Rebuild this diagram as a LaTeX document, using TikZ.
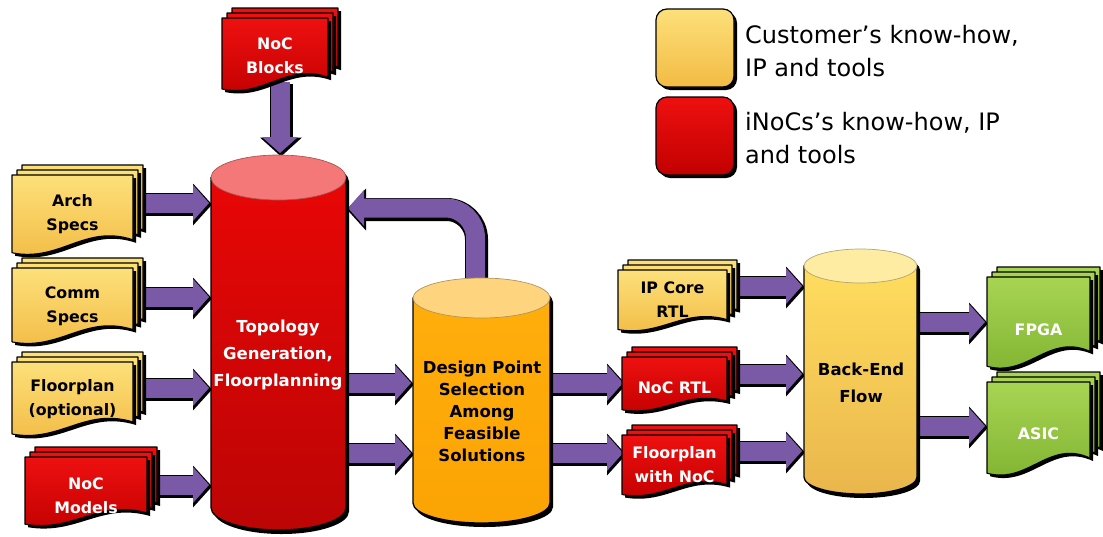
\documentclass[tikz,border=0pt]{standalone}
\usepackage{fontspec}
\setmainfont{DejaVu Sans}
\usetikzlibrary{arrows.meta,calc,shadows}
\pgfdeclarelayer{bg}
\pgfsetlayers{bg,main}
\definecolor{yT}{HTML}{FDE07A}
\definecolor{yB}{HTML}{F2BB44}
\definecolor{rT}{HTML}{EE1010}
\definecolor{rB}{HTML}{C20000}
\definecolor{gT}{HTML}{A8D454}
\definecolor{gB}{HTML}{7FB330}
\definecolor{purp}{HTML}{7A5AA6}
\definecolor{cylRtop}{HTML}{F47878}
\definecolor{cylRa}{HTML}{E80606}
\definecolor{cylRb}{HTML}{BC0505}
\definecolor{cylOtop}{HTML}{FFD47E}
\definecolor{cylOa}{HTML}{FFAE0C}
\definecolor{cylOb}{HTML}{FBA404}
\definecolor{cylYtop}{HTML}{FDECA2}
\definecolor{cylYa}{HTML}{FFDD5E}
\definecolor{cylYb}{HTML}{E9B64C}
\tikzset{
  docY/.style={top color=yT, bottom color=yB},
  docR/.style={top color=rT, bottom color=rB},
  docG/.style={top color=gT, bottom color=gB},
  dtxtK/.style={font=\bfseries\fontsize{15.8}{24}\selectfont, align=center, text=black, inner sep=0pt},
  dtxtW/.style={font=\bfseries\fontsize{15.8}{24}\selectfont, align=center, text=white, inner sep=0pt},
  ctxtK/.style={font=\bfseries\fontsize{16.5}{22}\selectfont, align=center, text=black, inner sep=0pt},
  ctxtW/.style={font=\bfseries\fontsize{16.5}{27}\selectfont, align=center, text=white, inner sep=0pt},
  ctxtK2/.style={font=\bfseries\fontsize{16.5}{27}\selectfont, align=center, text=black, inner sep=0pt},
  anchorbox/.style={inner sep=0pt, outer sep=0pt, draw=none},
  arrK/.style={draw=black, line width=23pt, -{Triangle[width=42pt,length=19pt,line width=0pt]}, transform canvas={shift={(1pt,-1.5pt)}}},
  arrP/.style={draw=purp, line width=19pt, shorten >=2pt, -{Triangle[width=36pt,length=16pt,line width=0pt]}},
  legsq/.style={minimum size=78pt, rounded corners=11pt, draw=black, line width=1.2pt, inner sep=0pt,
    drop shadow={shadow xshift=3pt, shadow yshift=-3pt, opacity=1, fill=black}},
  legtxt/.style={font=\fontsize{24}{33}\selectfont, align=left, anchor=west, inner sep=0pt},
}
\newcommand\mdoc[9]{%
  \pgfmathsetmacro\dw{#4-#2-10}%
  \pgfmathsetmacro\dh{#5-#3-10}%
  \foreach \k in {10,5,0}{%
    \pgfmathsetmacro\px{#2+\k}%
    \pgfmathsetmacro\py{#3+10-\k}%
    \fill[black] ({\px+3},{\py+3}) -- ({\px+\dw+3},{\py+3}) -- ({\px+\dw+3},{\py+0.8*\dh+3}) .. controls ({\px+0.6*\dw+3},{\py+0.6*\dh+3}) and ({\px+0.4*\dw+3},{\py+1.08*\dh+3}) .. ({\px+3},{\py+0.96*\dh+3}) -- cycle;
    \shadedraw[#6, draw=black, line width=1.1pt, line join=round] (\px,\py) -- ({\px+\dw},\py) -- ({\px+\dw},{\py+0.8*\dh}) .. controls ({\px+0.6*\dw},{\py+0.6*\dh}) and ({\px+0.4*\dw},{\py+1.08*\dh}) .. (\px,{\py+0.96*\dh}) -- cycle;
  }%
  \node[anchorbox, minimum width={#4-#2}, minimum height={#5-#3}] (#1) at ({(#2+#4)/2},{(#3+#5)/2}) {};
  \node[#7] (#1-t) at ({#2+\dw/2},{#3+10+#9*\dh}) {#8};
}
\newcommand\cyl[8]{%
  \pgfmathsetmacro\cx{(#2+#3)/2}%
  \pgfmathsetmacro\rx{(#3-#2)/2}%
  \pgfmathsetmacro\yt{#4+#6}%
  \pgfmathsetmacro\yb{#5-#6}%
  \fill[black] ({#2+3},{\yt+4}) -- ({#2+3},{\yb+4}) arc[start angle=180,end angle=0,x radius=\rx,y radius=#6] -- ({#3+3},{\yt+4}) -- cycle;
  \fill[black] ({\cx+3},{\yt+4}) ellipse [x radius=\rx, y radius=#6];
  \shadedraw[#7, draw=black, line width=1.3pt] (#2,\yt) -- (#2,\yb) arc[start angle=180,end angle=0,x radius=\rx,y radius=#6] -- (#3,\yt) -- cycle;
  \filldraw[fill=#8, draw=#8!70!black, line width=0.7pt] (\cx,\yt) ellipse [x radius=\rx, y radius=#6];
  \node[anchorbox, minimum width={#3-#2}, minimum height={#5-#4}] (#1) at (\cx,{(#4+#5)/2}) {};
}
\newcommand\conn[1]{\draw[arrK] #1; \draw[arrP] #1;}
\begin{document}
\begin{tikzpicture}[x=1pt,y=-1pt]
\useasboundingbox (0,0) rectangle (1103,536);

% legend
\node[legsq, top color=yT, bottom color=yB] (legY) at (695,48) {};
\node[legsq, top color=rT, bottom color=rB] (legR) at (695,136) {};
\node[legtxt] (legYt) at (745,51) {Customer’s know-how,\\IP and tools};
\node[legtxt] (legRt) at (745,138) {iNoCs’s know-how, IP\\and tools};

% documents
\mdoc{blocks}{222}{8}{338}{92}{docR}{dtxtW}{NoC\\Blocks}{0.51}
\mdoc{arch}{12}{165}{143}{256}{docY}{dtxtK}{Arch\\Specs}{0.48}
\mdoc{comm}{12}{258}{143}{345}{docY}{dtxtK}{Comm\\Specs}{0.5}
\mdoc{fpopt}{12}{352}{143}{437}{docY}{dtxtK}{Floorplan\\(optional)}{0.49}
\mdoc{models}{25}{447}{157}{527}{docR}{dtxtW}{NoC\\Models}{0.55}
\mdoc{ipcore}{618}{260}{737}{332}{docY}{dtxtK}{IP Core\\RTL}{0.48}
\mdoc{nocrtl}{622}{347}{737}{412}{docR}{dtxtW}{NoC RTL}{0.55}
\mdoc{fpnoc}{622}{425}{737}{497}{docR}{dtxtW}{Floorplan\\with NoC}{0.47}
\mdoc{fpga}{987}{267}{1100}{370}{docG}{dtxtW}{FPGA}{0.57}
\mdoc{asic}{987}{372}{1100}{477}{docG}{dtxtW}{ASIC}{0.54}

% cylinders
\cyl{topo}{211}{346}{155}{530}{22.5}{top color=cylRa, bottom color=cylRb}{cylRtop}
\node[ctxtW] (topo-t) at (278,355) {Topology\\Generation,\\Floorplanning};
\cyl{dps}{413}{550}{278}{523}{20}{top color=cylOa, bottom color=cylOb}{cylOtop}
\node[ctxtK] (dps-t) at (482,411) {Design Point\\Selection\\Among\\Feasible\\Solutions};
\cyl{bef}{804}{917}{249}{494}{17}{top color=cylYa, bottom color=cylYb}{cylYtop}
\node[ctxtK2] (bef-t) at (861,383) {Back-End\\Flow};

% connectors
\begin{pgfonlayer}{bg}
\conn{($(blocks.south)+(0,-10)$) -- (blocks.south |- topo.north)}
\conn{($(arch.east |- 0,203)+(-8,0)$) -- (topo.west |- 0,203)}
\conn{($(comm.east |- 0,297)+(-8,0)$) -- (topo.west |- 0,297)}
\conn{($(fpopt.east |- 0,388)+(-8,0)$) -- (topo.west |- 0,388)}
\conn{($(models.east |- 0,485)+(-8,0)$) -- (topo.west |- 0,485)}
\conn{($(topo.east |- 0,383)+(-5,0)$) -- (dps.west |- 0,383)}
\conn{($(topo.east |- 0,453)+(-5,0)$) -- (dps.west |- 0,453)}
\conn{($(dps.east |- 0,383)+(-5,0)$) -- ($(nocrtl.west |- 0,383)+(3,0)$)}
\conn{($(dps.east |- 0,453)+(-5,0)$) -- ($(fpnoc.west |- 0,453)+(3,0)$)}
\conn{($(ipcore.east |- 0,286)+(-6,0)$) -- (bef.west |- 0,286)}
\conn{($(nocrtl.east |- 0,374)+(-6,0)$) -- (bef.west |- 0,374)}
\conn{($(fpnoc.east |- 0,451)+(-6,0)$) -- (bef.west |- 0,451)}
\conn{($(bef.east |- 0,322)+(-5,0)$) -- (fpga.west |- 0,322)}
\conn{($(bef.east |- 0,426)+(-5,0)$) -- (asic.west |- 0,426)}
\draw[arrK, rounded corners=30pt] ($(dps.north)+(-6,12)$) |- (topo.east |- 0,208);
\draw[arrP, rounded corners=30pt] ($(dps.north)+(-6,12)$) |- (topo.east |- 0,208);
\end{pgfonlayer}
\end{tikzpicture}
\end{document}
